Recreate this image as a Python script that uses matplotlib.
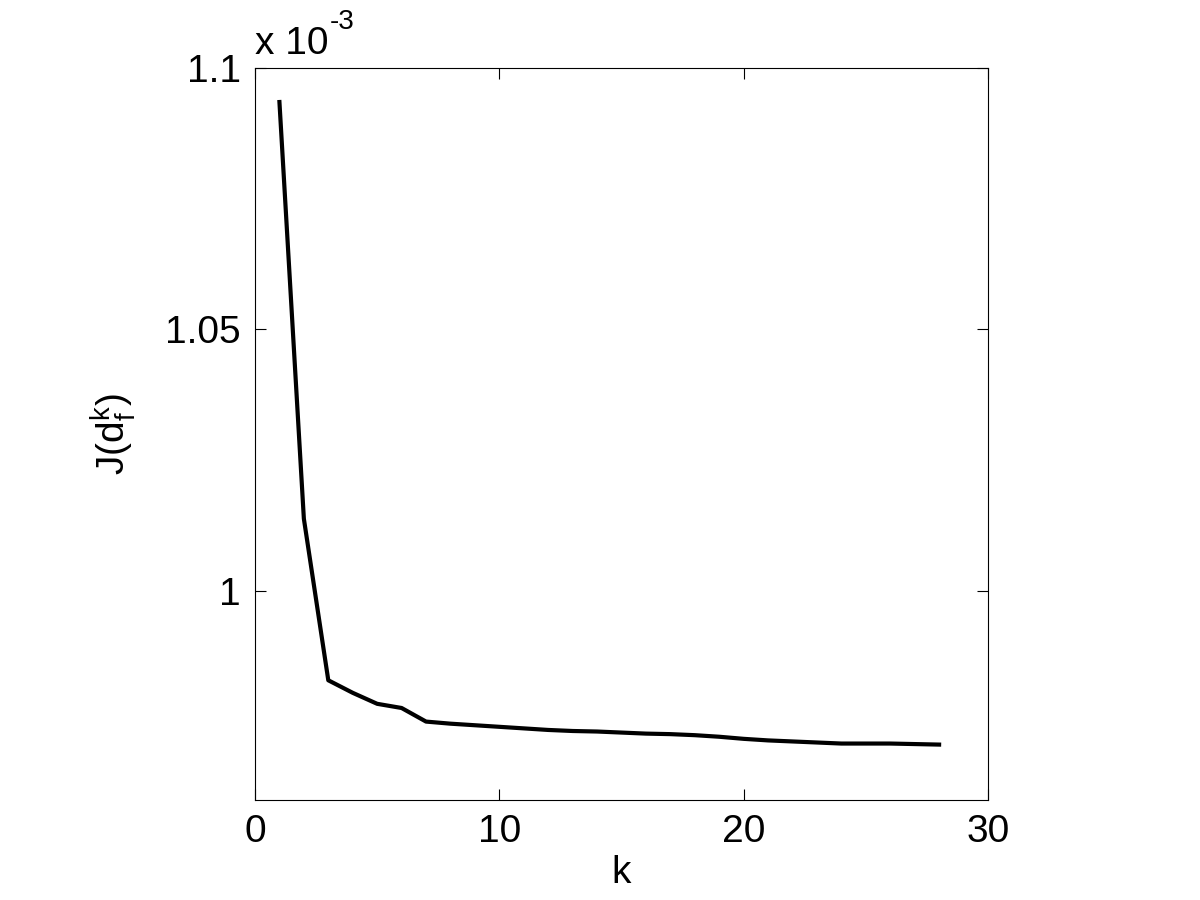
import matplotlib
matplotlib.use("Agg")
import matplotlib.pyplot as plt

plt.rcParams["font.family"] = ["Liberation Sans", "DejaVu Sans"]
plt.rcParams["mathtext.fontset"] = "custom"
plt.rcParams["mathtext.rm"] = "Liberation Sans"
plt.rcParams["mathtext.it"] = "Liberation Sans"

# J(d_f^k) values, in units of 1e-3
k = list(range(1, 29))
j_values = [1.0935, 1.0138, 0.9829, 0.9805, 0.9784, 0.9776, 0.9750, 0.9746,
            0.9743, 0.9740, 0.9737, 0.9734, 0.9732, 0.9731, 0.9729, 0.9727,
            0.9726, 0.9724, 0.9721, 0.9717, 0.9714, 0.9712, 0.9710, 0.9708,
            0.9708, 0.9708, 0.9707, 0.9706]
x_ticks = [0, 10, 20, 30]
y_ticks = [1.0, 1.05, 1.1]
y_tick_labels = ["1", "1.05", "1.1"]

fig = plt.figure(figsize=(12, 9), dpi=100)
ax = fig.add_axes([0.2125, 0.1111, 0.6108, 0.8133])

ax.plot(k, j_values, color="black", linewidth=3)

ax.set_xlim(0, 30)
ax.set_ylim(0.96, 1.1)
ax.set_xticks(x_ticks)
ax.set_yticks(y_ticks)
ax.set_yticklabels(y_tick_labels)
ax.tick_params(direction="in", top=True, right=True, length=8, width=0.8,
               labelsize=28, pad=10)
for sp in ax.spines.values():
    sp.set_linewidth(0.8)

ax.set_xlabel("k", fontsize=28, labelpad=4)
ax.set_ylabel(r"J(d$_{\mathrm{f}}^{\mathrm{k}}$)", fontsize=28, labelpad=20)

# multiplier written the MATLAB way, with a plain hyphen
mult = ax.text(0.0, 1.008, "x 10", transform=ax.transAxes, fontsize=28,
               ha="left", va="bottom")
ax.annotate("-3", xy=(1, 1), xycoords=mult, xytext=(1, -6),
            textcoords="offset points", fontsize=20, ha="left", va="bottom")

fig.savefig("out.png", dpi=100)
